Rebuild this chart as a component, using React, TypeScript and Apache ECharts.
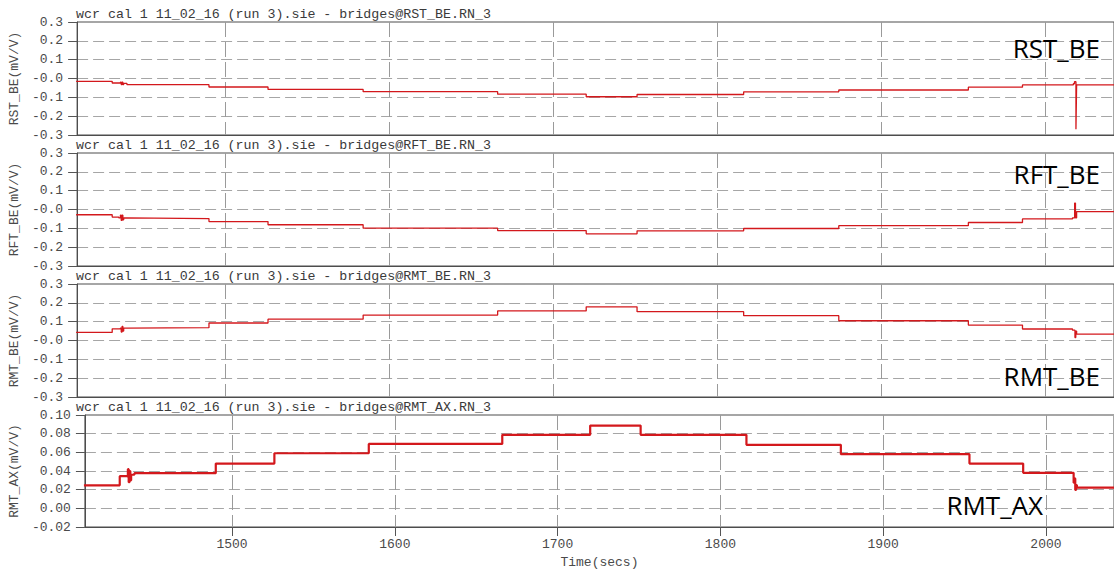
import React, { useEffect, useRef } from "react";
import * as echarts from "echarts";

// ---- data ----
const xTicks = [1500, 1600, 1700, 1800, 1900, 2000];
const xMin = 1409.6;
const xMax = 2041.8;

const yTicksBE = [-0.3, -0.2, -0.1, 0.0, 0.1, 0.2, 0.3];
const yTicksAX = [-0.02, 0.0, 0.02, 0.04, 0.06, 0.08, 0.1];

const channelNames = ["RST_BE", "RFT_BE", "RMT_BE", "RMT_AX"];
const panelTitles = [
  "wcr cal 1 11_02_16 (run 3).sie - bridges@RST_BE.RN_3",
  "wcr cal 1 11_02_16 (run 3).sie - bridges@RFT_BE.RN_3",
  "wcr cal 1 11_02_16 (run 3).sie - bridges@RMT_BE.RN_3",
  "wcr cal 1 11_02_16 (run 3).sie - bridges@RMT_AX.RN_3",
];
const axisNames = ["RST_BE(mV/V)", "RFT_BE(mV/V)", "RMT_BE(mV/V)", "RMT_AX(mV/V)"];
const timeName = "Time(secs)";

const rstBE: [number, number][] = [
  [1409, -0.015], [1431, -0.024], [1436, -0.02], [1436.5, -0.032], [1437, -0.02],
  [1437.5, -0.032], [1438, -0.026], [1440, -0.033], [1490, -0.045], [1526, -0.058],
  [1584, -0.07], [1666, -0.083], [1720, -0.097], [1751, -0.085], [1816, -0.071],
  [1874, -0.061], [1953, -0.046], [1986, -0.034], [2017, -0.028], [2017.7, -0.017],
  [2018.6, -0.27], [2019, -0.034], [2042, -0.034],
];

const rftBE: [number, number][] = [
  [1409, -0.028], [1431, -0.04], [1435, -0.044], [1436, -0.03], [1436.5, -0.058],
  [1437, -0.03], [1437.5, -0.055], [1438, -0.045], [1440, -0.048], [1490, -0.064],
  [1526, -0.081], [1584, -0.099], [1666, -0.112], [1720, -0.129], [1751, -0.113],
  [1816, -0.101], [1874, -0.086], [1953, -0.069], [1986, -0.05], [2016.5, -0.044],
  [2017.8, 0.034], [2018.3, -0.044], [2019, -0.011], [2042, -0.011],
];

const rmtBE: [number, number][] = [
  [1409, 0.043], [1431, 0.062], [1436, 0.066], [1436.5, 0.045], [1437, 0.075],
  [1437.5, 0.05], [1438, 0.066], [1440, 0.068], [1490, 0.093], [1526, 0.113],
  [1584, 0.135], [1666, 0.157], [1720, 0.179], [1751, 0.153], [1816, 0.132],
  [1874, 0.105], [1953, 0.082], [1986, 0.061], [2016.5, 0.055], [2018, 0.016],
  [2018.5, 0.05], [2019, 0.034], [2042, 0.034],
];

const rmtAX: [number, number][] = [
  [1409, 0.0246], [1431, 0.0345], [1435.5, 0.034], [1436, 0.042], [1436.5, 0.028],
  [1437, 0.04], [1437.5, 0.03], [1438, 0.036], [1440, 0.0377], [1490, 0.048],
  [1526, 0.059], [1584, 0.069], [1666, 0.0788], [1720, 0.0887], [1751, 0.0788],
  [1816, 0.068], [1874, 0.058], [1953, 0.048], [1986, 0.038], [2017, 0.0275],
  [2017.5, 0.032], [2018, 0.0197], [2018.5, 0.025], [2019, 0.0222], [2042, 0.0222],
];

const seriesData = [rstBE, rftBE, rmtBE, rmtAX];

// ---- layout / style ----
const MONO = "'Liberation Mono', 'DejaVu Sans Mono', monospace";
const tops = [22, 153, 284, 415];
const panelHeight = 113;
const plotLeft = 76;
const plotWidth = 1040;
const lineColor = "#d3181c";
const lineWidths = [1.3, 1.3, 1.3, 2.2];
const bigLabelPos = [
  { x: 1100, y: 47.5 },
  { x: 1100, y: 174 },
  { x: 1100, y: 376 },
  { x: 1043, y: 504.5 },
];

export default function App() {
  const ref = useRef<HTMLDivElement>(null);

  useEffect(() => {
    if (!ref.current) return;
    const chart = echarts.init(ref.current, null, { renderer: "svg" });

    const grids = tops.map((t) => ({
      left: plotLeft,
      width: plotWidth,
      top: t,
      height: panelHeight,
      show: true,
      borderColor: "#4d4d4d",
      borderWidth: 1,
      backgroundColor: "transparent",
    }));

    const xAxes = tops.map((_, i) => ({
      gridIndex: i,
      type: "value",
      min: xMin,
      max: xMax,
      name: i === 3 ? timeName : "",
      nameLocation: "middle",
      nameGap: 29,
      nameTextStyle: { fontFamily: MONO, fontSize: 13, color: "#4a4a4a" },
      axisLine: { show: true, onZero: false, lineStyle: { color: "#4d4d4d", width: 1 } },
      axisTick: {
        show: i === 3,
        customValues: xTicks,
        length: 9,
        lineStyle: { color: "#555" },
      },
      axisLabel: {
        show: i === 3,
        customValues: xTicks,
        margin: 11,
        fontFamily: MONO,
        fontSize: 13,
        color: "#4a4a4a",
        formatter: (v: number) => String(v),
      },
      splitLine: {
        show: true,
        lineStyle: { type: [15, 5], color: "#9a9a9a", width: 1 },
      },
    }));

    const yAxes = tops.map((_, i) => {
      const ticks = i === 3 ? yTicksAX : yTicksBE;
      const digits = i === 3 ? 2 : 1;
      return {
        gridIndex: i,
        type: "value",
        min: ticks[0],
        max: ticks[ticks.length - 1],
        interval: ticks[1] - ticks[0],
        name: axisNames[i],
        nameLocation: "middle",
        nameRotate: 90,
        nameGap: 50,
        nameTextStyle: { fontFamily: MONO, fontSize: 13, color: "#4a4a4a" },
        axisLine: { show: true, onZero: false, lineStyle: { color: "#4d4d4d", width: 1 } },
        axisTick: { show: true, length: 9, lineStyle: { color: "#555" } },
        axisLabel: {
          margin: 14,
          fontFamily: MONO,
          fontSize: 13,
          color: "#4a4a4a",
          formatter: (v: number) => v.toFixed(digits),
        },
        splitLine: {
          show: true,
          lineStyle: { type: [11, 5], color: "#a6a6a6", width: 1 },
        },
      };
    });

    const series = seriesData.map((d, i) => ({
      type: "line",
      xAxisIndex: i,
      yAxisIndex: i,
      data: d,
      step: "end",
      symbol: "none",
      showSymbol: false,
      silent: true,
      lineStyle: { color: lineColor, width: lineWidths[i] },
    }));

    const graphics: any[] = [];
    panelTitles.forEach((t, i) => {
      graphics.push({
        type: "text",
        x: plotLeft,
        y: tops[i] - 8,
        style: {
          text: t,
          fontFamily: MONO,
          fontSize: 13.3,
          fill: "#3a3a3a",
          align: "left",
          verticalAlign: "middle",
        },
      });
    });
    channelNames.forEach((n, i) => {
      graphics.push({
        type: "text",
        x: bigLabelPos[i].x,
        y: bigLabelPos[i].y,
        z: 100,
        style: {
          text: n,
          fontFamily: "'Open Sans', 'Noto Sans', sans-serif",
          fontSize: 26,
          fill: "#000",
          align: "right",
          verticalAlign: "middle",
        },
      });
    });

    chart.setOption({
      animation: false,
      backgroundColor: "#ffffff",
      grid: grids,
      xAxis: xAxes,
      yAxis: yAxes,
      series,
      graphic: graphics,
    });

    return () => chart.dispose();
  }, []);

  return (
    <div
      ref={ref}
      style={{ position: "fixed", left: 0, top: 0, width: 1114, height: 570 }}
    />
  );
}
